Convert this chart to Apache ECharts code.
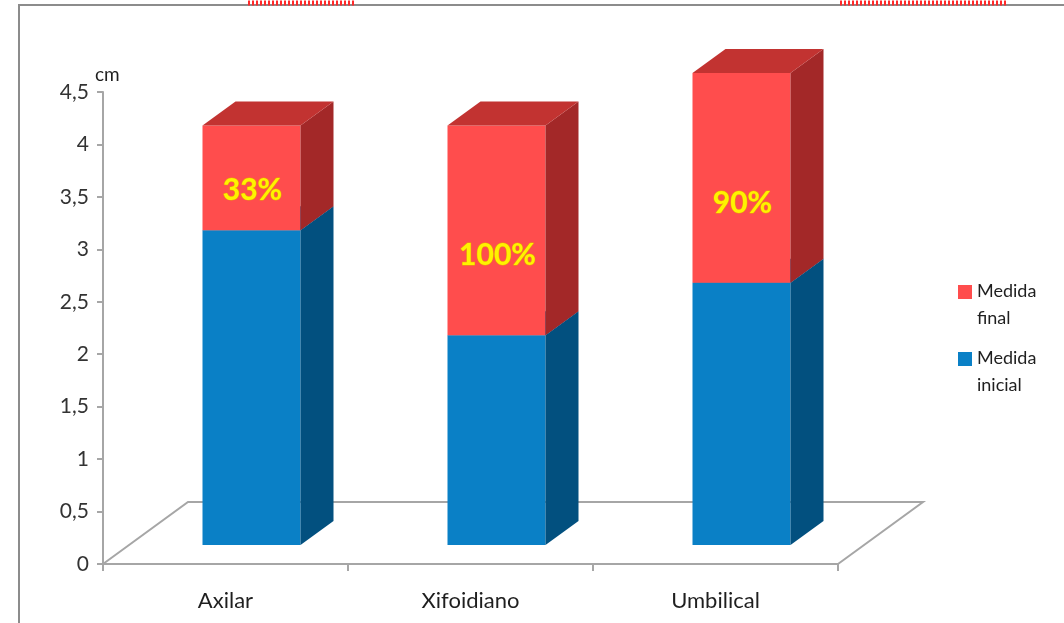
<!DOCTYPE html>
<html>
<head>
<meta charset="utf-8">
<script src="https://cdn.jsdelivr.net/npm/echarts@6/dist/echarts.min.js"></script>
<style>
  html, body { margin: 0; padding: 0; background: #ffffff; }
  #chart { width: 1064px; height: 623px; }
</style>
</head>
<body>
<div id="chart"></div>
<script>
// Measurements (cm) per site
const categories = ['Axilar', 'Xifoidiano', 'Umbilical'];
const medidaInicial = [3, 2, 2.5];
// Gain stacked on top of the initial measure
const medidaFinal = [1, 2, 2];
const pctLabels = ['33%', '100%', '90%'];
const yTicks = { min: 0, max: 4.5, interval: 0.5 };

// 3D look: bars sit a little behind the front plane and have depth
const BAR_SHIFT = [26, -19];
const BAR_DEPTH = [33, -24];
const FLOOR_DEPTH = [85, -62];
const AXIS_GREY = '#a6a6a6';
const FONT = 'Lato';

const palette = {
  inicial: { front: '#0a80c6', side: '#02507f', top: '#0b6aa5' },
  final:   { front: '#ff4d4d', side: '#a32828', top: '#c23331' }
};

function boxShape(api, colors, withLabel) {
  const idx = api.value(0);
  const band = api.size([1, 0])[0];
  const w = band * 0.4;
  const cx = api.coord([idx, 0])[0] + BAR_SHIFT[0];
  const yb = api.coord([idx, api.value(1)])[1] + BAR_SHIFT[1];
  const yt = api.coord([idx, api.value(2)])[1] + BAR_SHIFT[1];
  const xl = cx - w / 2, xr = cx + w / 2;
  const dx = BAR_DEPTH[0], dy = BAR_DEPTH[1];
  const children = [
    { type: 'rect', shape: { x: xl, y: yt, width: w, height: yb - yt },
      style: { fill: colors.front } },
    { type: 'polygon', shape: { points: [[xr, yb], [xr + dx, yb + dy], [xr + dx, yt + dy], [xr, yt]] },
      style: { fill: colors.side } },
    { type: 'polygon', shape: { points: [[xl, yt], [xl + dx, yt + dy], [xr + dx, yt + dy], [xr, yt]] },
      style: { fill: colors.top } }
  ];
  if (withLabel) {
    children.push({
      type: 'text',
      style: {
        text: pctLabels[idx],
        x: cx + 1,
        y: yt + (yb - yt) * 0.62,
        align: 'center',
        verticalAlign: 'middle',
        fontFamily: FONT,
        fontWeight: 'bold',
        fontSize: 30,
        fill: '#fff200',
        stroke: '#e6a800',
        lineWidth: 1
      }
    });
  }
  return { type: 'group', children: children };
}

const inicialData = categories.map((c, i) => [i, 0, medidaInicial[i]]);
const finalData = categories.map((c, i) => [i, medidaInicial[i], medidaInicial[i] + medidaFinal[i]]);

const legendIcon = 'path://M0,0H14V14H0Z M0,40H0.01V40.01H0Z';

const chart = echarts.init(document.getElementById('chart'), null, { renderer: 'canvas' });

chart.setOption({
  backgroundColor: '#ffffff',
  animation: false,
  graphic: [
    { type: 'rect', shape: { x: 19, y: 5, width: 1100, height: 700 },
      style: { fill: 'none', stroke: '#8c8c8c', lineWidth: 2 }, z: -10 },
    { type: 'line', shape: { x1: 248, y1: 3, x2: 354, y2: 3 },
      style: { stroke: '#ff2a2a', lineWidth: 5, lineDash: [2, 2] } },
    { type: 'line', shape: { x1: 840, y1: 3, x2: 1008, y2: 3 },
      style: { stroke: '#ff2a2a', lineWidth: 5, lineDash: [2, 2] } }
  ],
  grid: { left: 103, top: 92, width: 735, height: 472, containLabel: false },
  legend: {
    orient: 'vertical',
    left: 953,
    top: 273,
    itemWidth: 14,
    itemHeight: 40,
    itemGap: 13,
    data: [
      { name: 'Medida final', icon: legendIcon, itemStyle: { color: palette.final.front } },
      { name: 'Medida inicial', icon: legendIcon, itemStyle: { color: palette.inicial.front } }
    ],
    formatter: name => name.replace(' ', '\n'),
    textStyle: { fontFamily: FONT, fontSize: 18, lineHeight: 27, color: '#1f1f1f' }
  },
  xAxis: {
    type: 'category',
    data: categories,
    boundaryGap: true,
    axisLine: { lineStyle: { color: AXIS_GREY, width: 2 } },
    axisTick: { show: true, length: 7, alignWithLabel: false, lineStyle: { color: AXIS_GREY, width: 2 } },
    axisLabel: { fontFamily: FONT, fontSize: 22, color: '#1f1f1f', margin: 26 },
    splitLine: { show: false }
  },
  yAxis: {
    type: 'value',
    min: yTicks.min,
    max: yTicks.max,
    interval: yTicks.interval,
    name: 'cm',
    nameLocation: 'end',
    nameGap: 8,
    nameTextStyle: { fontFamily: FONT, fontSize: 19, color: '#1f1f1f', align: 'left', padding: [0, 0, 0, -8] },
    axisLine: { show: true, lineStyle: { color: AXIS_GREY, width: 2 } },
    axisTick: { show: true, length: 6, lineStyle: { color: AXIS_GREY, width: 2 } },
    axisLabel: {
      fontFamily: FONT, fontSize: 21, color: '#333333', margin: 14,
      formatter: v => String(v).replace('.', ',')
    },
    splitLine: { show: false }
  },
  series: [
    {
      // floor of the 3D plot
      type: 'custom',
      name: 'floor',
      silent: true,
      data: [[0, 0, 0]],
      encode: { x: 0, y: 1 },
      z: 1,
      renderItem: function (params, api) {
        const cs = params.coordSys;
        const y0 = cs.y + cs.height;
        const x0 = cs.x, x1 = cs.x + cs.width;
        return {
          type: 'polyline',
          shape: { points: [[x0, y0], [x0 + FLOOR_DEPTH[0], y0 + FLOOR_DEPTH[1]],
                            [x1 + FLOOR_DEPTH[0], y0 + FLOOR_DEPTH[1]], [x1, y0]] },
          style: { stroke: AXIS_GREY, lineWidth: 2, fill: 'none' }
        };
      }
    },
    {
      type: 'custom',
      name: 'Medida inicial',
      data: inicialData,
      encode: { x: 0, y: [1, 2] },
      itemStyle: { color: palette.inicial.front },
      z: 2,
      renderItem: (params, api) => boxShape(api, palette.inicial, false)
    },
    {
      type: 'custom',
      name: 'Medida final',
      data: finalData,
      encode: { x: 0, y: [1, 2] },
      itemStyle: { color: palette.final.front },
      z: 3,
      renderItem: (params, api) => boxShape(api, palette.final, true)
    }
  ]
});
</script>
</body>
</html>
